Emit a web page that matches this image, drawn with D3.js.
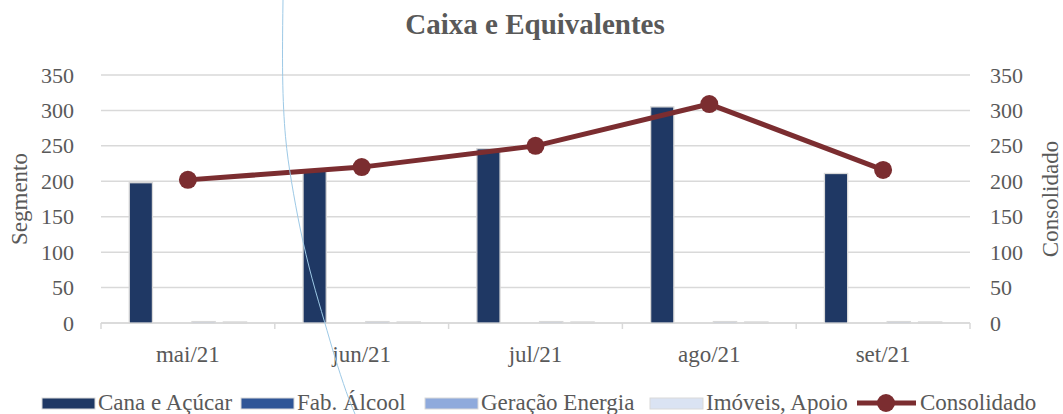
<!DOCTYPE html>
<html>
<head>
<meta charset="utf-8">
<script src="https://cdn.jsdelivr.net/npm/d3@7"></script>
</head>
<body style="margin:0; background:#fff">
<div id="grafico"></div>
<script>
//----------------------------------------------------------------
// données du graphique
var meses = ["mai/21", "jun/21", "jul/21", "ago/21", "set/21"];
var series = ["Cana e Açúcar", "Fab. Álcool", "Geração Energia", "Imóveis, Apoio"];
var canaAcucar = [198, 215, 246, 305, 211];
var fabAlcool = [0, 0, 0, 0, 0];
var geracaoEnergia = [2, 2, 2, 2, 2];
var imoveisApoio = [1.5, 1.5, 1.5, 1.5, 1.5];
var consolidado = [202, 220, 250, 309, 216];
var ticksY = [0, 50, 100, 150, 200, 250, 300, 350];
var couleurs = ["#1f3864", "#2f5597", "#8faadc", "#dae3f3"];
// trait bleu parasite visible sur l'image d'origine
var traitParasite = [[283,0],[282,80],[285,140],[291,180],[300,230],[312,280],[325,323],[334,355],[347,395],[355,414]];

//----------------------------------------------------------------
// crée le svg
var largeur = 1063, hauteur = 414;
var marge = { gauche: 101, droite: 93, haut: 75, bas: 91 };
var police = "'Liberation Serif', serif";
var gris = "#595959";
var svg = d3.select("#grafico")
  .append("svg")
  .attr("width", largeur)
  .attr("height", hauteur)
  .style("font-family", police);

var x = d3.scaleBand()
  .domain(meses)
  .range([marge.gauche, largeur - marge.droite]);
var xSerie = d3.scaleBand()
  .domain(series)
  .range([0, x.bandwidth()])
  .paddingInner(0.26)
  .paddingOuter(0.9);
var y = d3.scaleLinear().domain([0, 350]).range([hauteur - marge.bas, marge.haut]);
var y2 = d3.scaleLinear().domain([0, 350]).range([hauteur - marge.bas, marge.haut]);

function texte(sel, taille) {
  return sel.attr("font-family", "Liberation Serif")
    .style("font-family", police)
    .attr("font-size", taille)
    .attr("fill", gris);
}

//----------------------------------------------------------------
// titre
texte(svg.append("text"), "29px")
  .attr("x", 535).attr("y", 34)
  .attr("text-anchor", "middle")
  .attr("font-weight", "bold")
  .text("Caixa e Equivalentes");

//----------------------------------------------------------------
// grille horizontale
svg.append("g")
  .selectAll("line")
  .data(ticksY)
  .enter()
  .append("line")
  .attr("x1", marge.gauche).attr("x2", largeur - marge.droite)
  .attr("y1", function(d){ return y(d); })
  .attr("y2", function(d){ return y(d); })
  .attr("stroke", "#d9d9d9")
  .attr("stroke-width", 1.5);

// axes verticaux (sans trait)
var axeG = svg.append("g")
  .attr("transform", "translate(" + marge.gauche + ",0)")
  .call(d3.axisLeft(y).tickValues(ticksY).tickSize(0).tickPadding(27));
var axeD = svg.append("g")
  .attr("transform", "translate(" + (largeur - marge.droite) + ",0)")
  .call(d3.axisRight(y2).tickValues(ticksY).tickSize(0).tickPadding(20));
[axeG, axeD].forEach(function(a){
  a.attr("font-family", "Liberation Serif");
  a.select(".domain").remove();
  texte(a.selectAll("text"), "22px");
});

// axe horizontal
var axeX = svg.append("g")
  .attr("transform", "translate(0," + y(0) + ")")
  .call(d3.axisBottom(x).tickSize(0).tickPadding(23));
axeX.attr("font-family", "Liberation Serif");
axeX.select(".domain").remove();
texte(axeX.selectAll("text"), "23px");
svg.append("line")
  .attr("x1", marge.gauche).attr("x2", largeur - marge.droite)
  .attr("y1", y(0)).attr("y2", y(0))
  .attr("stroke", "#d9d9d9").attr("stroke-width", 1.5);
svg.append("g")
  .selectAll("line")
  .data(meses.concat(["fin"]))
  .enter()
  .append("line")
  .attr("x1", function(d, i){ return marge.gauche + i * x.step(); })
  .attr("x2", function(d, i){ return marge.gauche + i * x.step(); })
  .attr("y1", y(0)).attr("y2", y(0) + 6)
  .attr("stroke", "#d9d9d9").attr("stroke-width", 1.5);

// titres des axes
texte(svg.append("text"), "23px")
  .attr("transform", "translate(27," + y(175) + ") rotate(-90)")
  .attr("text-anchor", "middle")
  .text("Segmento");
texte(svg.append("text"), "23px")
  .attr("transform", "translate(1058," + y(175) + ") rotate(-90)")
  .attr("text-anchor", "middle")
  .text("Consolidado");

//----------------------------------------------------------------
// barres
var valeurs = [canaAcucar, fabAlcool, geracaoEnergia, imoveisApoio];
var donneesBarres = [];
meses.forEach(function(m, i){
  series.forEach(function(s, j){
    donneesBarres.push({ mes: m, serie: s, val: valeurs[j][i], couleur: couleurs[j] });
  });
});
svg.append("g")
  .selectAll("rect")
  .data(donneesBarres.filter(function(d){ return d.val > 0; }))
  .enter()
  .append("rect")
  .attr("x", function(d){ return x(d.mes) + xSerie(d.serie); })
  .attr("width", xSerie.bandwidth())
  .attr("y", function(d){ return y(d.val); })
  .attr("height", function(d){ return y(0) - y(d.val); })
  .attr("fill", function(d){ return d.couleur; })
  .attr("stroke", "#d9d9d9")
  .attr("stroke-width", 1.3);

//----------------------------------------------------------------
// ligne consolidado
var ligne = d3.line()
  .x(function(d, i){ return x(meses[i]) + x.bandwidth() / 2; })
  .y(function(d){ return y2(d); });
svg.append("path")
  .datum(consolidado)
  .attr("d", ligne)
  .attr("fill", "none")
  .attr("stroke", "#7b2d30")
  .attr("stroke-width", 5)
  .attr("stroke-linejoin", "round");
svg.append("g")
  .selectAll("circle")
  .data(consolidado)
  .enter()
  .append("circle")
  .attr("cx", function(d, i){ return x(meses[i]) + x.bandwidth() / 2; })
  .attr("cy", function(d){ return y2(d); })
  .attr("r", 9)
  .attr("fill", "#7b2d30");

//----------------------------------------------------------------
// légende
var legende = svg.append("g");
var posLegende = [42, 241, 425, 650];
series.forEach(function(s, j){
  legende.append("rect")
    .attr("x", posLegende[j]).attr("y", 398)
    .attr("width", 53).attr("height", 11)
    .attr("fill", couleurs[j])
    .attr("stroke", "#d9d9d9").attr("stroke-width", 1);
  texte(legende.append("text"), "23px")
    .attr("x", posLegende[j] + 56).attr("y", 410)
    .text(s);
});
legende.append("line")
  .attr("x1", 857).attr("x2", 916)
  .attr("y1", 403).attr("y2", 403)
  .attr("stroke", "#7b2d30").attr("stroke-width", 5);
legende.append("circle")
  .attr("cx", 886).attr("cy", 403).attr("r", 9)
  .attr("fill", "#7b2d30");
texte(legende.append("text"), "23px")
  .attr("x", 920).attr("y", 410)
  .text("Consolidado");

//----------------------------------------------------------------
// trait bleu fin
svg.append("path")
  .datum(traitParasite)
  .attr("d", d3.line().curve(d3.curveBasis))
  .attr("fill", "none")
  .attr("stroke", "#9dc9e6")
  .attr("stroke-width", 1);
</script>
</body>
</html>
